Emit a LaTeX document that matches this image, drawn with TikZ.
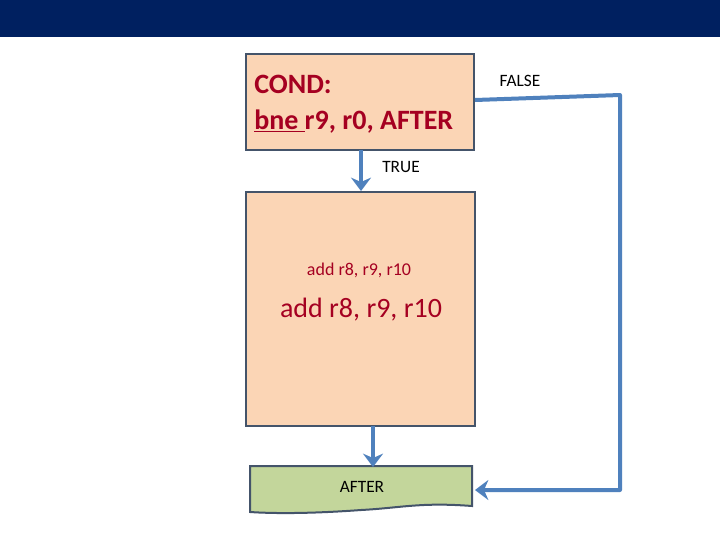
\documentclass[tikz,border=0pt]{standalone}
\usepackage{fontspec}
\setmainfont{Carlito}
\usetikzlibrary{arrows.meta}
\definecolor{navy}{HTML}{002060}
\definecolor{peach}{HTML}{FBD5B5}
\definecolor{boxedge}{HTML}{44546A}
\definecolor{green1}{HTML}{C3D69B}
\definecolor{arrowblue}{HTML}{4F81BD}
\definecolor{darkred}{HTML}{A50021}
\tikzset{
  box/.style={draw=boxedge,line width=2pt,fill=peach},
  conn/.style={draw=arrowblue,line width=3pt,-{Stealth[length=10pt,width=15pt]}},
  lbl/.style={font=\fontsize{13}{15}\selectfont,inner sep=0pt}
}
\begin{document}
\begin{tikzpicture}[x=0.75pt,y=-0.75pt]
\useasboundingbox (0,0) rectangle (720,540);
\fill[white] (0,0) rectangle (720,540);
\fill[navy] (0,0) rectangle (720,37);
\draw[box] (246,54) rectangle (474,150);
\node[anchor=north west,align=left,text=darkred,font=\fontsize{21}{27}\selectfont\bfseries,inner sep=0pt] (cond) at (254,75)
 {COND:\\\underline{bne }r9, r0, AFTER};
\coordinate (c1) at (361,150);
\coordinate (c2) at (361,191);
\draw[box] (246,192) rectangle (475,426);
\node[text=darkred,font=\fontsize{13.5}{15}\selectfont,inner sep=0pt] (a1) at (359,270) {add r8, r9, r10};
\node[text=darkred,font=\fontsize{21}{24}\selectfont,inner sep=0pt] (a2) at (361,310) {add r8, r9, r10};
\coordinate (b1) at (373,426);
\coordinate (b2) at (373,467);
\draw[draw=boxedge,line width=1.5pt,fill=green1] (250,466) -- (472,466) -- (472,506)
  .. controls (420,502) and (400,508) .. (361,510) .. controls (320,513) and (280,514) .. (250,512) -- cycle;
\node[lbl] (after) at (362,487) {AFTER};
\node[lbl] (true) at (401,167) {TRUE};
\node[lbl] (false) at (520,81) {FALSE};
\draw[conn] (c1) -- (c2);
\draw[conn] (b1) -- (b2);
\coordinate (f0) at (475,100);
\coordinate (f1) at (620,95);
\coordinate (f2) at (620,490);
\coordinate (f3) at (475,490);
\draw[conn,line join=round] (f0) -- (f1) -- (f2) -- (f3);
\end{tikzpicture}
\end{document}
